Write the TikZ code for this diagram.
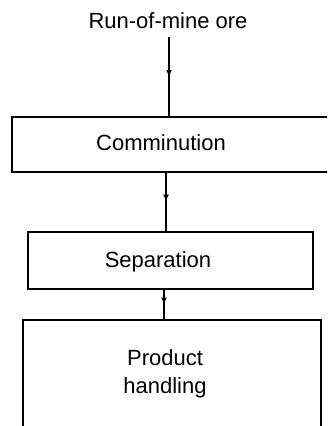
\documentclass[tikz,border=0pt]{standalone}
\usepackage{fontspec}
\setmainfont{Liberation Sans}
\usepackage{tikz}
\usetikzlibrary{positioning, calc, arrows.meta, decorations.markings}

\begin{document}
\begin{tikzpicture}[x=1pt, y=-1pt,
    stage/.style={draw, line width=2pt, inner sep=0pt},
    caption/.style={font=\fontsize{22}{28}\selectfont, inner sep=0pt, align=center},
    flow/.style={line width=2.2pt, decoration={markings, mark=at position 0.5 with {\arrow{Latex[length=7pt,width=6pt]}}}, postaction={decorate}}]
    \useasboundingbox (0,0) rectangle (327,426);
    \clip (0,0) rectangle (327,426);

    % Feed
    \node[caption] (ore) at (168, 21) {Run-of-mine ore};

    % Comminution (runs off the right edge)
    \node[inner sep=0pt, minimum width=360pt, minimum height=55pt] (comm) at (192, 144.5) {};
    \draw[line width=2pt] (comm.north east) -- (comm.north west) -- (comm.south west) -- (comm.south east);
    \node[caption] (commtxt) at (161, 143) {Comminution};

    % Separation
    \node[stage, minimum width=285pt, minimum height=57pt] (sep) at (170.5, 260.5) {};
    \node[caption] (septxt) at (158, 262) {Separation};

    % Product handling
    \node[stage, minimum width=298pt, minimum height=130pt] (prod) at (172, 385) {};
    \node[caption] (prodtxt) at (165, 374) {Product\\handling};

    % Flows
    \draw[flow] ([yshift=-8pt]ore.south -| 169,0) -- (169,0 |- comm.north);
    \draw[flow] ([xshift=-4.5pt]sep.north |- comm.south) -- ([xshift=-4.5pt]sep.north);
    \draw[flow] ([xshift=-8pt]prod.north |- sep.south) -- ([xshift=-8pt]prod.north);
\end{tikzpicture}
\end{document}
